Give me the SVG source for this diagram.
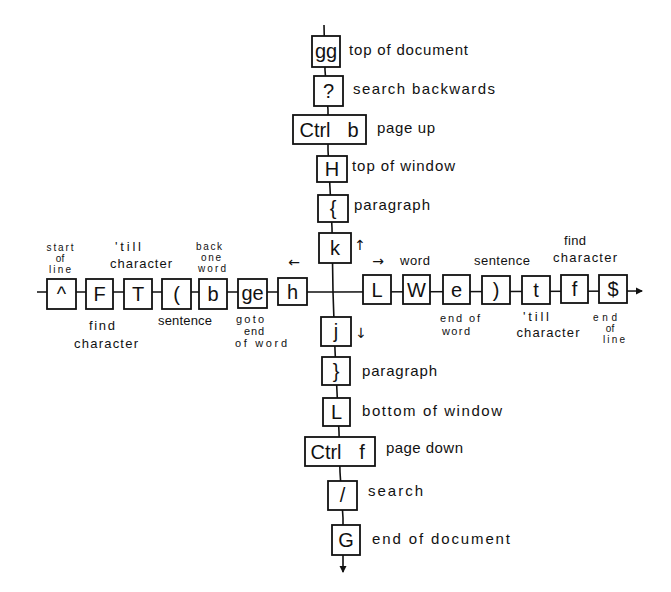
<svg xmlns="http://www.w3.org/2000/svg" width="671" height="592" viewBox="0 0 671 592">
<style>
.box{fill:#fff;stroke:#111;stroke-width:1.8}
.ln{fill:none;stroke:#111;stroke-width:1.6}
.key{font-family:"Liberation Sans",Arial,sans-serif;font-size:20px;fill:#111;text-anchor:middle}
.lbl{font-family:"Liberation Sans",Arial,sans-serif;font-size:15px;fill:#111}
.sm{font-family:"Liberation Sans",Arial,sans-serif;font-size:13px;fill:#111;text-anchor:middle}
.st{font-family:"Liberation Sans",Arial,sans-serif;font-size:10px;fill:#111;text-anchor:middle}
.st11{font-family:"Liberation Sans",Arial,sans-serif;font-size:11px;fill:#111;text-anchor:middle}
.arw{font-family:"DejaVu Sans",sans-serif;font-size:14px;fill:#111;text-anchor:middle}
</style>
<defs>
<marker id="ah" markerWidth="8" markerHeight="8" refX="6" refY="4" orient="auto" markerUnits="userSpaceOnUse">
<path d="M0,0.5 L7,4 L0,7.5 Z" fill="#111"/>
</marker>
</defs>
<rect width="671" height="592" fill="#fff"/>
<g id="connectors">
<polyline class="ln" points="324,25 325,70 328,110 328,150 330,188 332,228 333,292 335,350 337,392 339,432 340,472 343,518 343,572" marker-end="url(#ah)"/>
<polyline class="ln" points="37,292 333,292 642,291" marker-end="url(#ah)"/>
</g>
<g id="n-gg"><rect class="box" x="312" y="36" width="28" height="31"/><text class="key" x="326" y="58">gg</text><text class="lbl" x="349" y="55" textLength="119">top of document</text></g>
<g id="n-q"><rect class="box" x="314" y="76" width="29" height="30"/><text class="key" x="328.5" y="98">?</text><text class="lbl" x="353" y="94" textLength="142">search backwards</text></g>
<g id="n-ctrlb"><rect class="box" x="293" y="115" width="73" height="29"/><text class="key" x="315" y="137">Ctrl</text><text class="key" x="353" y="137">b</text><text class="lbl" x="377" y="133" textLength="58">page up</text></g>
<g id="n-H"><rect class="box" x="317" y="156" width="30" height="26"/><text class="key" x="332" y="176">H</text><text class="lbl" x="352" y="171" textLength="103">top of window</text></g>
<g id="n-brace-open"><rect class="box" x="318" y="195" width="30" height="27"/><text class="key" x="333" y="215">{</text><text class="lbl" x="354" y="210" textLength="76">paragraph</text></g>
<g id="n-k"><rect class="box" x="319" y="233" width="32" height="30"/><text class="key" x="335" y="255">k</text><text class="arw" x="360" y="250">↑</text></g>
<g id="n-caret"><rect class="box" x="47" y="279" width="29" height="30"/><text class="key" x="61.5" y="301">^</text><text class="st" x="60" y="251" textLength="27">start</text><text class="st" x="60" y="262">of</text><text class="st" x="60" y="273" textLength="22">line</text></g>
<g id="n-F"><rect class="box" x="86" y="279" width="27" height="30"/><text class="key" x="99.5" y="301">F</text><text class="sm" x="102" y="330" textLength="26">find</text><text class="sm" x="106" y="348" textLength="64">character</text></g>
<g id="n-T"><rect class="box" x="124" y="279" width="28" height="30"/><text class="key" x="138" y="301">T</text><text class="sm" x="128" y="251" textLength="26">'till</text><text class="sm" x="141" y="268" textLength="62">character</text></g>
<g id="n-paren-open"><rect class="box" x="162" y="279" width="29" height="30"/><text class="key" x="176.5" y="301">(</text><text class="sm" x="185" y="325" textLength="54">sentence</text></g>
<g id="n-b"><rect class="box" x="199" y="279" width="28" height="30"/><text class="key" x="213" y="301">b</text><text class="st" x="209" y="250" textLength="26">back</text><text class="st" x="211" y="261" textLength="20">one</text><text class="st" x="212" y="272" textLength="28">word</text></g>
<g id="n-ge"><rect class="box" x="238" y="279" width="29" height="29"/><text class="key" x="252.5" y="300">ge</text><text class="st11" x="250" y="323" textLength="28">goto</text><text class="st11" x="254" y="335" textLength="20">end</text><text class="st11" x="261" y="347" textLength="52">of word</text></g>
<g id="n-h"><rect class="box" x="278" y="278" width="29" height="27"/><text class="key" x="292.5" y="299">h</text><text class="arw" x="294" y="267">←</text></g>
<g id="n-l"><rect class="box" x="363" y="275" width="28" height="29"/><text class="key" x="377" y="297">L</text><text class="arw" x="378" y="266">→</text></g>
<g id="n-w"><rect class="box" x="403" y="275" width="27" height="29"/><text class="key" x="416.5" y="297">W</text><text class="sm" x="415" y="265" textLength="30">word</text></g>
<g id="n-e"><rect class="box" x="443" y="275" width="27" height="29"/><text class="key" x="456.5" y="297">e</text><text class="st11" x="460" y="322" textLength="40">end of</text><text class="st11" x="456" y="335" textLength="28">word</text></g>
<g id="n-paren-close"><rect class="box" x="482" y="276" width="28" height="28"/><text class="key" x="496" y="297">)</text><text class="sm" x="502" y="265" textLength="56">sentence</text></g>
<g id="n-t"><rect class="box" x="522" y="276" width="28" height="28"/><text class="key" x="536" y="297">t</text><text class="sm" x="536" y="321" textLength="26">'till</text><text class="sm" x="548" y="337" textLength="63">character</text></g>
<g id="n-f"><rect class="box" x="561" y="275" width="27" height="28"/><text class="key" x="574.5" y="296">f</text><text class="sm" x="575" y="245" textLength="22">find</text><text class="sm" x="585" y="262" textLength="64">character</text></g>
<g id="n-dollar"><rect class="box" x="599" y="275" width="28" height="28"/><text class="key" x="613" y="296">$</text><text class="st" x="605" y="321" textLength="24">end</text><text class="st" x="610" y="332">of</text><text class="st" x="614" y="343" textLength="22">line</text></g>
<g id="n-j"><rect class="box" x="321" y="317" width="30" height="29"/><text class="key" x="336" y="338">j</text><text class="arw" x="361" y="338">↓</text></g>
<g id="n-brace-close"><rect class="box" x="322" y="357" width="28" height="28"/><text class="key" x="336" y="378">}</text><text class="lbl" x="362" y="376" textLength="75">paragraph</text></g>
<g id="n-L"><rect class="box" x="323" y="398" width="27" height="28"/><text class="key" x="336.5" y="419">L</text><text class="lbl" x="362" y="416" textLength="140">bottom of window</text></g>
<g id="n-ctrlf"><rect class="box" x="305" y="437" width="70" height="29"/><text class="key" x="326" y="459">Ctrl</text><text class="key" x="362" y="459">f</text><text class="lbl" x="386" y="453" textLength="77">page down</text></g>
<g id="n-slash"><rect class="box" x="328" y="481" width="29" height="29"/><text class="key" x="342.5" y="502">/</text><text class="lbl" x="368" y="496" textLength="55">search</text></g>
<g id="n-G"><rect class="box" x="332" y="525" width="28" height="30"/><text class="key" x="346" y="547">G</text><text class="lbl" x="372" y="544" textLength="138">end of document</text></g>
</svg>
